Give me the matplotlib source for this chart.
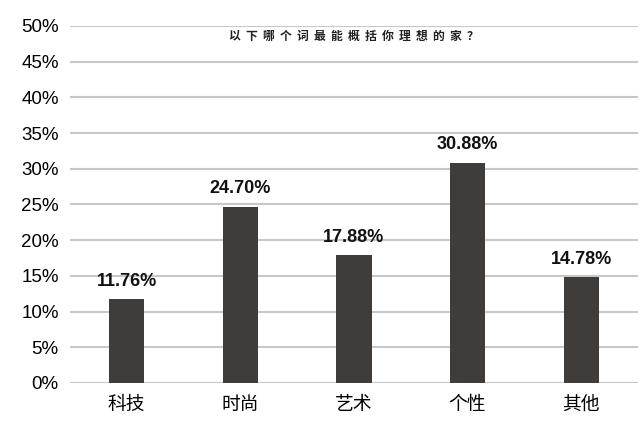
import matplotlib.pyplot as plt
from matplotlib.ticker import FuncFormatter

plt.rcParams['font.family'] = ['Noto Sans CJK SC', 'DejaVu Sans']

categories = ['科技', '时尚', '艺术', '个性', '其他']
values = [11.76, 24.70, 17.88, 30.88, 14.78]
title = '以下哪个词最能概括你理想的家？'

fig = plt.figure(figsize=(6.4, 4.33), dpi=100)
ax = fig.add_axes([0.109, 0.1155, 0.888, 0.8245])

x = range(len(categories))
ax.bar(x, values, width=0.31, color='#403c39', zorder=3)
for i, v in zip(x, values):
    ax.text(i, v + 1.3, '%.2f%%' % v, ha='center', va='bottom',
            fontsize=13, fontweight='bold', family='Liberation Sans', color='#111111')

ax.set_ylim(0, 50)
ax.set_xlim(-0.5, 4.5)
ax.set_yticks(range(0, 51, 5))
ax.yaxis.set_major_formatter(FuncFormatter(lambda v, p: '%d%%' % v))
ax.set_xticks(list(x))
ax.set_xticklabels(categories, fontsize=13.5)
for lab in ax.get_yticklabels():
    lab.set_fontsize(13.5)
    lab.set_family('Liberation Sans')
ax.grid(axis='y', color='#c8c8c8', linewidth=1.5, zorder=0)
ax.tick_params(length=0, pad=8)
for s in ax.spines.values():
    s.set_visible(False)
ax.axhline(0, color='#c8c8c8', linewidth=1.5, zorder=1)

ax.text(0.5, 0.99, '  '.join(title), transform=ax.transAxes, ha='center', va='top',
        fontsize=8.5, fontweight='bold', color='#222222')

fig.savefig('out.png')
